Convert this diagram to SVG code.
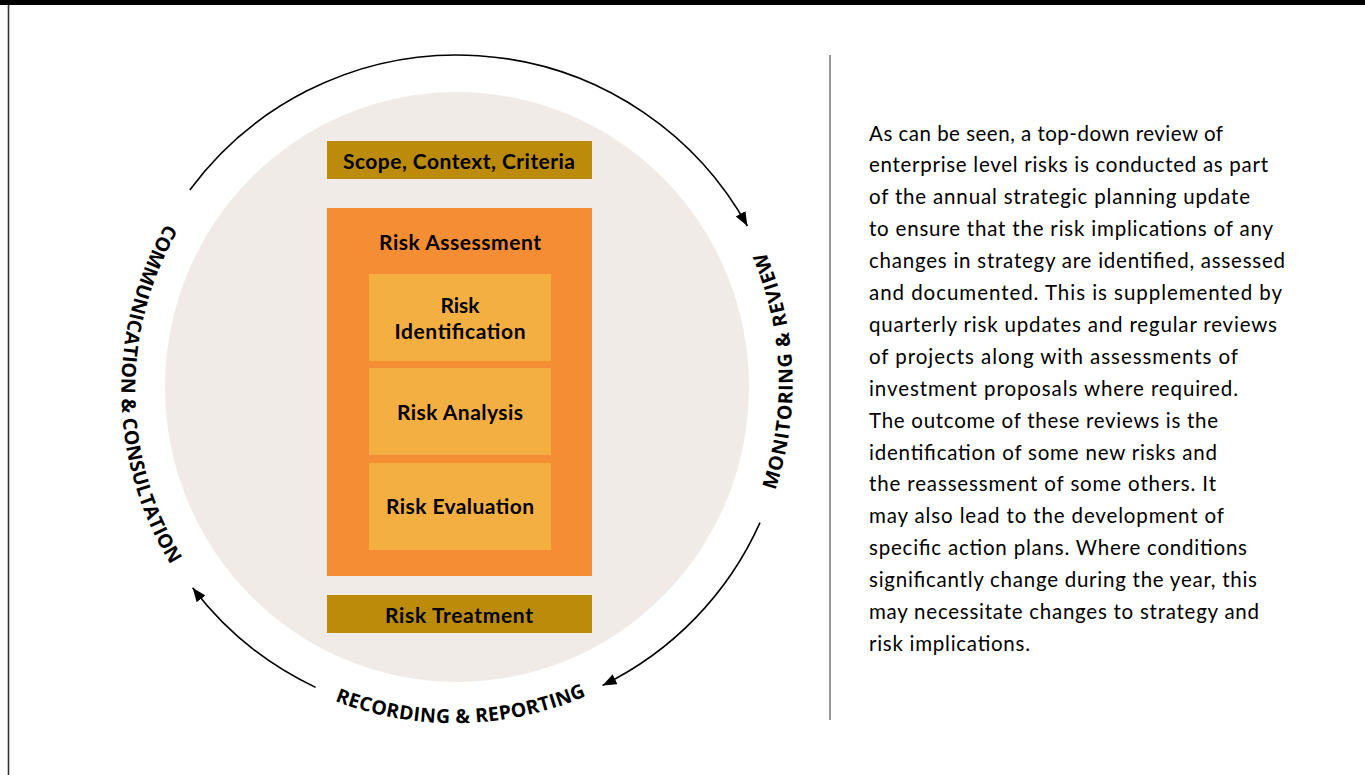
<svg xmlns="http://www.w3.org/2000/svg" xmlns:xlink="http://www.w3.org/1999/xlink" width="1365" height="775" viewBox="0 0 1365 775">
  <style>
    .box-gold { fill: #BC8B0A; }
    .box-orange { fill: #F58D34; }
    .box-light { fill: #F4AF42; }
    .lbl { font-family: Lato, "Liberation Sans", sans-serif; font-weight: bold; font-size: 21px; fill: #000; text-anchor: middle; }
    .arc-lbl { font-family: "Open Sans", "Liberation Sans", sans-serif; font-weight: 700; font-size: 19.5px; fill: #000; }
    .para { font-family: Lato, "Liberation Sans", sans-serif; font-size: 20.5px; fill: #000; }
    .conn { fill: none; stroke: #000; stroke-width: 1.6; }
  </style>
  <defs>
    <marker id="arrow" markerUnits="userSpaceOnUse" markerWidth="15" markerHeight="12" refX="14" refY="5.5" orient="auto">
      <path d="M0,0 L14,5.5 L0,11 z" fill="#000"/>
    </marker>
    <path id="ring" d="M 712.1 601 A 333 333 0 1 0 201.9 173 A 333 333 0 1 0 712.1 601"/>
  </defs>

  <rect x="0" y="0" width="1365" height="775" fill="#fff"/>
  <rect x="0" y="0" width="1365" height="5" fill="#000"/>
  <line x1="8.5" y1="5" x2="8.5" y2="775" stroke="#333" stroke-width="1.6"/>

  <g id="background-circle">
    <ellipse cx="457" cy="387" rx="292" ry="295" fill="#F0EBE7"/>
  </g>

  <g id="scope">
    <rect class="box-gold" x="327" y="141" width="265" height="38"/>
    <text class="lbl" x="459" y="169" textLength="232" lengthAdjust="spacing">Scope, Context, Criteria</text>
  </g>

  <g id="risk-assessment">
    <rect class="box-orange" x="327" y="208" width="265" height="368"/>
    <text class="lbl" x="460" y="250" textLength="162" lengthAdjust="spacing">Risk Assessment</text>
  </g>

  <g id="risk-identification">
    <rect class="box-light" x="369" y="274" width="182" height="87"/>
    <text class="lbl" x="460" y="313">Risk</text>
    <text class="lbl" x="460" y="339" textLength="131" lengthAdjust="spacing">Identification</text>
  </g>

  <g id="risk-analysis">
    <rect class="box-light" x="369" y="368" width="182" height="87"/>
    <text class="lbl" x="460" y="420" textLength="126" lengthAdjust="spacing">Risk Analysis</text>
  </g>

  <g id="risk-evaluation">
    <rect class="box-light" x="369" y="463" width="182" height="87"/>
    <text class="lbl" x="460" y="514" textLength="148" lengthAdjust="spacing">Risk Evaluation</text>
  </g>

  <g id="risk-treatment">
    <rect class="box-gold" x="327" y="595" width="265" height="38"/>
    <text class="lbl" x="459" y="623" textLength="148" lengthAdjust="spacing">Risk Treatment</text>
  </g>

  <g id="connectors">
    <path class="conn" d="M 189.8 190 A 332 332 0 0 1 747.4 226" marker-end="url(#arrow)"/>
    <path class="conn" d="M 760 522.6 A 332 332 0 0 1 602.5 685.4" marker-end="url(#arrow)"/>
    <path class="conn" d="M 315.6 687.4 A 332 332 0 0 1 192.6 587.7" marker-end="url(#arrow)"/>
  </g>

  <g id="label-monitoring">
    <text class="arc-lbl" text-anchor="middle"><textPath xlink:href="#ring" href="#ring" startOffset="250" textLength="244" lengthAdjust="spacing">MONITORING &amp; REVIEW</textPath></text>
  </g>
  <g id="label-communication">
    <text class="arc-lbl" text-anchor="middle"><textPath xlink:href="#ring" href="#ring" startOffset="1295" textLength="358" lengthAdjust="spacing">COMMUNICATION &amp; CONSULTATION</textPath></text>
  </g>
  <g id="label-recording">
    <text class="arc-lbl" text-anchor="middle"><textPath xlink:href="#ring" href="#ring" startOffset="1820" textLength="258" lengthAdjust="spacing">RECORDING &amp; REPORTING</textPath></text>
  </g>

  <line x1="830" y1="55" x2="830" y2="720" stroke="#333" stroke-width="1"/>

  <g id="description">
    <text class="para" x="869" y="140.5" textLength="354" lengthAdjust="spacing">As can be seen, a top-down review of</text>
    <text class="para" x="869" y="172.4" textLength="399" lengthAdjust="spacing">enterprise level risks is conducted as part</text>
    <text class="para" x="869" y="204.3" textLength="381" lengthAdjust="spacing">of the annual strategic planning update</text>
    <text class="para" x="869" y="236.2" textLength="404" lengthAdjust="spacing">to ensure that the risk implications of any</text>
    <text class="para" x="869" y="268.1" textLength="416" lengthAdjust="spacing">changes in strategy are identified, assessed</text>
    <text class="para" x="869" y="300" textLength="413" lengthAdjust="spacing">and documented. This is supplemented by</text>
    <text class="para" x="869" y="331.9" textLength="408" lengthAdjust="spacing">quarterly risk updates and regular reviews</text>
    <text class="para" x="869" y="363.8" textLength="369" lengthAdjust="spacing">of projects along with assessments of</text>
    <text class="para" x="869" y="395.7" textLength="369" lengthAdjust="spacing">investment proposals where required.</text>
    <text class="para" x="869" y="427.6" textLength="349" lengthAdjust="spacing">The outcome of these reviews is the</text>
    <text class="para" x="869" y="459.5" textLength="348" lengthAdjust="spacing">identification of some new risks and</text>
    <text class="para" x="869" y="491.4" textLength="347" lengthAdjust="spacing">the reassessment of some others. It</text>
    <text class="para" x="869" y="523.3" textLength="355" lengthAdjust="spacing">may also lead to the development of</text>
    <text class="para" x="869" y="555.2" textLength="378" lengthAdjust="spacing">specific action plans. Where conditions</text>
    <text class="para" x="869" y="587.1" textLength="388" lengthAdjust="spacing">significantly change during the year, this</text>
    <text class="para" x="869" y="619" textLength="390" lengthAdjust="spacing">may necessitate changes to strategy and</text>
    <text class="para" x="869" y="650.9" textLength="161" lengthAdjust="spacing">risk implications.</text>
  </g>
</svg>
